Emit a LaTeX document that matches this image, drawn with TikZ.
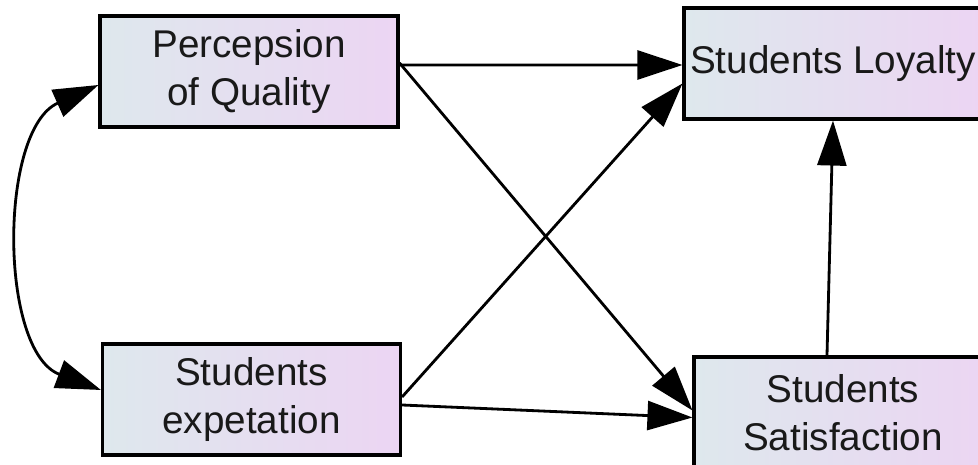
\documentclass[tikz,border=0pt]{standalone}
\usepackage{fontspec}
\setmainfont{Liberation Sans}
\usetikzlibrary{arrows.meta,calc}
\definecolor{boxleft}{RGB}{222,232,237}
\definecolor{boxright}{RGB}{236,213,243}
\definecolor{inktext}{RGB}{25,25,25}
\tikzset{
  varbox/.style={draw=black, line width=1.8pt, left color=boxleft, right color=boxright,
    minimum width=5.96cm, minimum height=2.22cm, inner sep=0pt, align=center,
    text=inktext, font=\fontsize{22}{27}\selectfont},
  arr/.style={line width=1.6pt, -{Triangle[length=0.9cm,width=0.58cm]}},
  dblarr/.style={line width=1.6pt, {Triangle[length=0.9cm,width=0.58cm]}-{Triangle[length=0.9cm,width=0.58cm]}}
}
\begin{document}
\begin{tikzpicture}[x=0.02cm,y=-0.02cm]
\useasboundingbox (0,0) rectangle (978,465);
\node[varbox] (PQ) at (249,71.5) {Percepsion\\of Quality};
\node[varbox] (SE) at (251.5,399.5) {Students\\expetation};
\node[varbox] (SL) at (833,63.5) {Students Loyalty};
\node[varbox] (SS) at (843,412.5) {Students\\Satisfaction};
\draw[arr] ($(PQ.east)+(0,-6.5)$) -- ($(SL.west)+(0,1.5)$);
\draw[arr] ($(PQ.east)+(0,-8.5)$) -- ($(SS.west)+(0,-2)$);
\draw[arr] ($(SE.east)+(0,-2.5)$) -- ($(SL.west)+(0,20)$);
\draw[arr] ($(SE.east)+(0,5.5)$) -- ($(SS.west)+(0,5)$);
\draw[arr] ($(SS.north)+(-16,0)$) -- (SL.south);
\draw[dblarr] ($(PQ.west)+(0,13.5)$) .. controls ($(PQ.west)+(-100,58)$) and ($(SE.west)+(-102,-48)$) .. ($(SE.west)+(0,-9.5)$);
\end{tikzpicture}
\end{document}
